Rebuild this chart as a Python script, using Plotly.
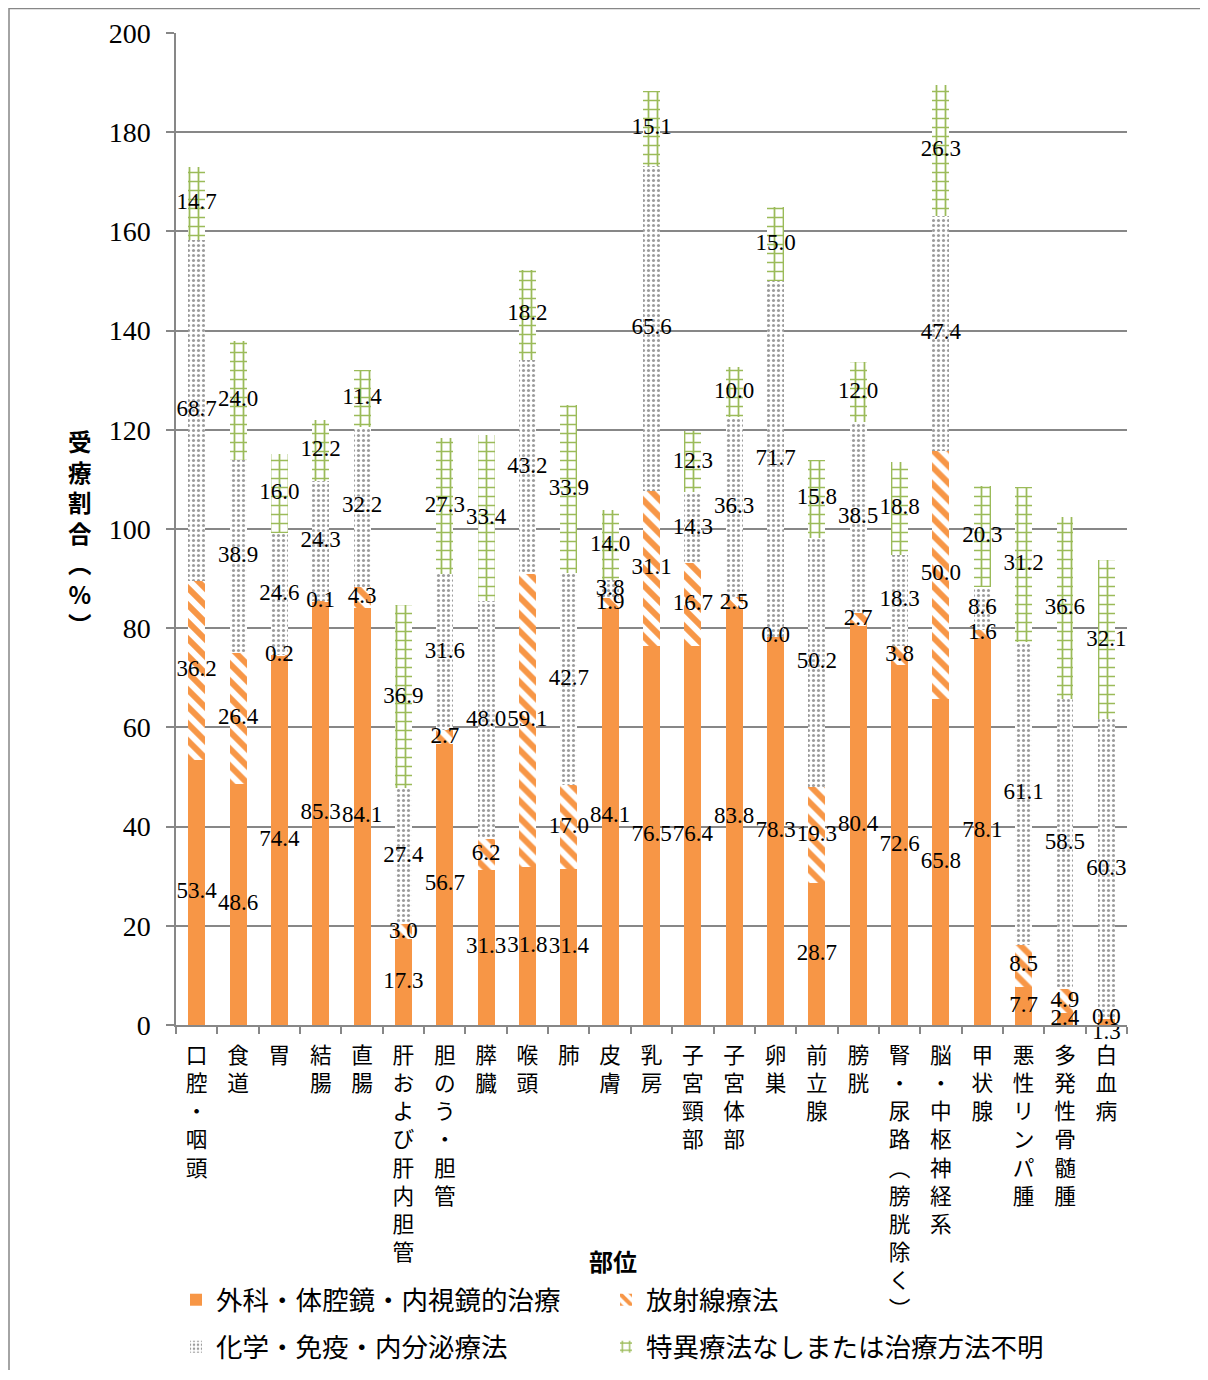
import numpy as np
import plotly.graph_objects as go

categories = [
    "口腔・咽頭", "食道", "胃", "結腸", "直腸", "肝および肝内胆管", "胆のう・胆管",
    "膵臓", "喉頭", "肺", "皮膚", "乳房", "子宮頸部", "子宮体部", "卵巣", "前立腺",
    "膀胱", "腎・尿路︵膀胱除く︶", "脳・中枢神経系", "甲状腺", "悪性リンパ腫",
    "多発性骨髄腫", "白血病",
]
surgery = [53.4, 48.6, 74.4, 85.3, 84.1, 17.3, 56.7, 31.3, 31.8, 31.4, 84.1, 76.5,
           76.4, 83.8, 78.3, 28.7, 80.4, 72.6, 65.8, 78.1, 7.7, 2.4, 1.3]
radiation = [36.2, 26.4, 0.2, 0.1, 4.3, 3.0, 2.7, 6.2, 59.1, 17.0, 1.9, 31.1,
             16.7, 2.5, 0.0, 19.3, 2.7, 3.8, 50.0, 1.6, 8.5, 4.9, 0.0]
chemo = [68.7, 38.9, 24.6, 24.3, 32.2, 27.4, 31.6, 48.0, 43.2, 42.7, 3.8, 65.6,
         14.3, 36.3, 71.7, 50.2, 38.5, 18.3, 47.4, 8.6, 61.1, 58.5, 60.3]
other = [14.7, 24.0, 16.0, 12.2, 11.4, 36.9, 27.3, 33.4, 18.2, 33.9, 14.0, 15.1,
         12.3, 10.0, 15.0, 15.8, 12.0, 18.8, 26.3, 20.3, 31.2, 36.6, 32.1]
series_names = ["外科・体腔鏡・内視鏡的治療", "放射線療法", "化学・免疫・内分泌療法",
                "特異療法なしまたは治療方法不明"]
y_ticks = [0, 20, 40, 60, 80, 100, 120, 140, 160, 180, 200]

ORANGE = "#F79646"
GRAY = "#9C9C9C"
GREEN = "#9BBB59"
GRID = "#878787"
SERIF = "Liberation Serif, Times New Roman, serif"
CJK = "Noto Sans CJK JP, sans-serif"

W, H = 1192, 1362
L, T, PW, PH = 168, 25, 951, 992

tick_text = ["<br>".join(list(c)) for c in categories]

fig = go.Figure()

styles = [
    dict(color=ORANGE),
    dict(color="white", pattern=dict(shape="\\", fgcolor=ORANGE, bgcolor="white",
                                     size=12, solidity=0.5, fillmode="replace")),
    dict(color="white", pattern=dict(shape=".", fgcolor=GRAY, bgcolor="white",
                                     size=5, solidity=0.3, fillmode="replace")),
    dict(color="white", pattern=dict(shape="+", fgcolor=GREEN, bgcolor="white",
                                     size=9, solidity=0.35, fillmode="replace")),
]
legend_ids = ["legend", "legend2", "legend3", "legend4"]
all_series = [surgery, radiation, chemo, other]

for name, vals, st, lg in zip(series_names, all_series, styles, legend_ids):
    fig.add_trace(go.Bar(x=categories, y=vals, name=name, marker=dict(line=dict(width=0), **st),
                         legend=lg))

# data labels at segment centres
base = np.zeros(len(categories))
for k, vals in enumerate(all_series):
    v = np.array(vals)
    mid = base + v / 2
    pos = ["middle center"] * len(v)
    if k == 0:
        pos[-1] = "bottom center"
    fig.add_trace(go.Scatter(x=categories, y=mid, mode="text",
                             text=[f"{x:.1f}" for x in v],
                             textposition=pos,
                             textfont=dict(family=SERIF, size=23, color="black"),
                             showlegend=False, hoverinfo="skip", cliponaxis=False))
    base = base + v

leg_font = dict(family=CJK, size=26.5, color="black")
col_x = [0.0, 430 / PW, 0.0, 430 / PW]
row_y = [(1025 - 1300) / PH, (1025 - 1300) / PH, (1025 - 1347) / PH, (1025 - 1347) / PH]
legend_layouts = {}
for lid, lx, ly in zip(legend_ids, col_x, row_y):
    legend_layouts[lid] = dict(orientation="h", x=lx, xanchor="left", y=ly, yanchor="middle",
                               font=leg_font, bgcolor="rgba(0,0,0,0)")

fig.update_layout(
    width=W, height=H, autosize=False,
    margin=dict(l=L, r=W - L - PW, t=T, b=H - T - PH, autoexpand=False),
    paper_bgcolor="white", plot_bgcolor="white",
    barmode="stack", bargap=0.59,
    xaxis=dict(type="category", tickmode="array", tickvals=categories, ticktext=tick_text,
               range=[-0.5, len(categories) - 0.5],
               tickfont=dict(family=CJK, size=21.7, color="black"),
               showline=True, linecolor=GRID, linewidth=1.5, automargin=False,
               ticks="outside", tickson="boundaries", ticklen=7, tickcolor=GRID, tickwidth=1.5,
               ticklabelstandoff=10,
               showgrid=False, tickangle=0),
    yaxis=dict(range=[0, 200], tickmode="array", tickvals=y_ticks,
               tickfont=dict(family=SERIF, size=28, color="black"),
               showline=True, linecolor=GRID, linewidth=1.5, automargin=False,
               ticks="outside", ticklen=8, tickcolor=GRID, tickwidth=1.5,
               ticklabelstandoff=10,
               showgrid=True, gridcolor=GRID, gridwidth=1.5, zeroline=False),
    showlegend=True,
    **legend_layouts,
)

fig.add_annotation(text="<br>".join(list("受療割合︵%︶")), xref="paper", yref="paper",
                   x=(80 - 176) / PW, y=(1025 - 532) / PH, showarrow=False,
                   font=dict(family=CJK, size=23.5, color="black", weight="bold"),
                   xanchor="center", yanchor="middle")
fig.add_annotation(text="<b>部位</b>", xref="paper", yref="paper",
                   x=(613 - 176) / PW, y=(1025 - 1260) / PH, showarrow=False,
                   font=dict(family=CJK, size=24, color="black"),
                   xanchor="center", yanchor="middle")

# outer frame (left and top edges visible)
fig.add_shape(type="rect", xref="paper", yref="paper",
              x0=(1 - L) / PW, x1=(W + 20 - L) / PW,
              y0=-(H + 20 - T - PH) / PH, y1=(T + PH - 0.5) / PH,
              line=dict(color=GRID, width=1.5), fillcolor="rgba(0,0,0,0)", layer="below")

fig.write_html("out.html")
